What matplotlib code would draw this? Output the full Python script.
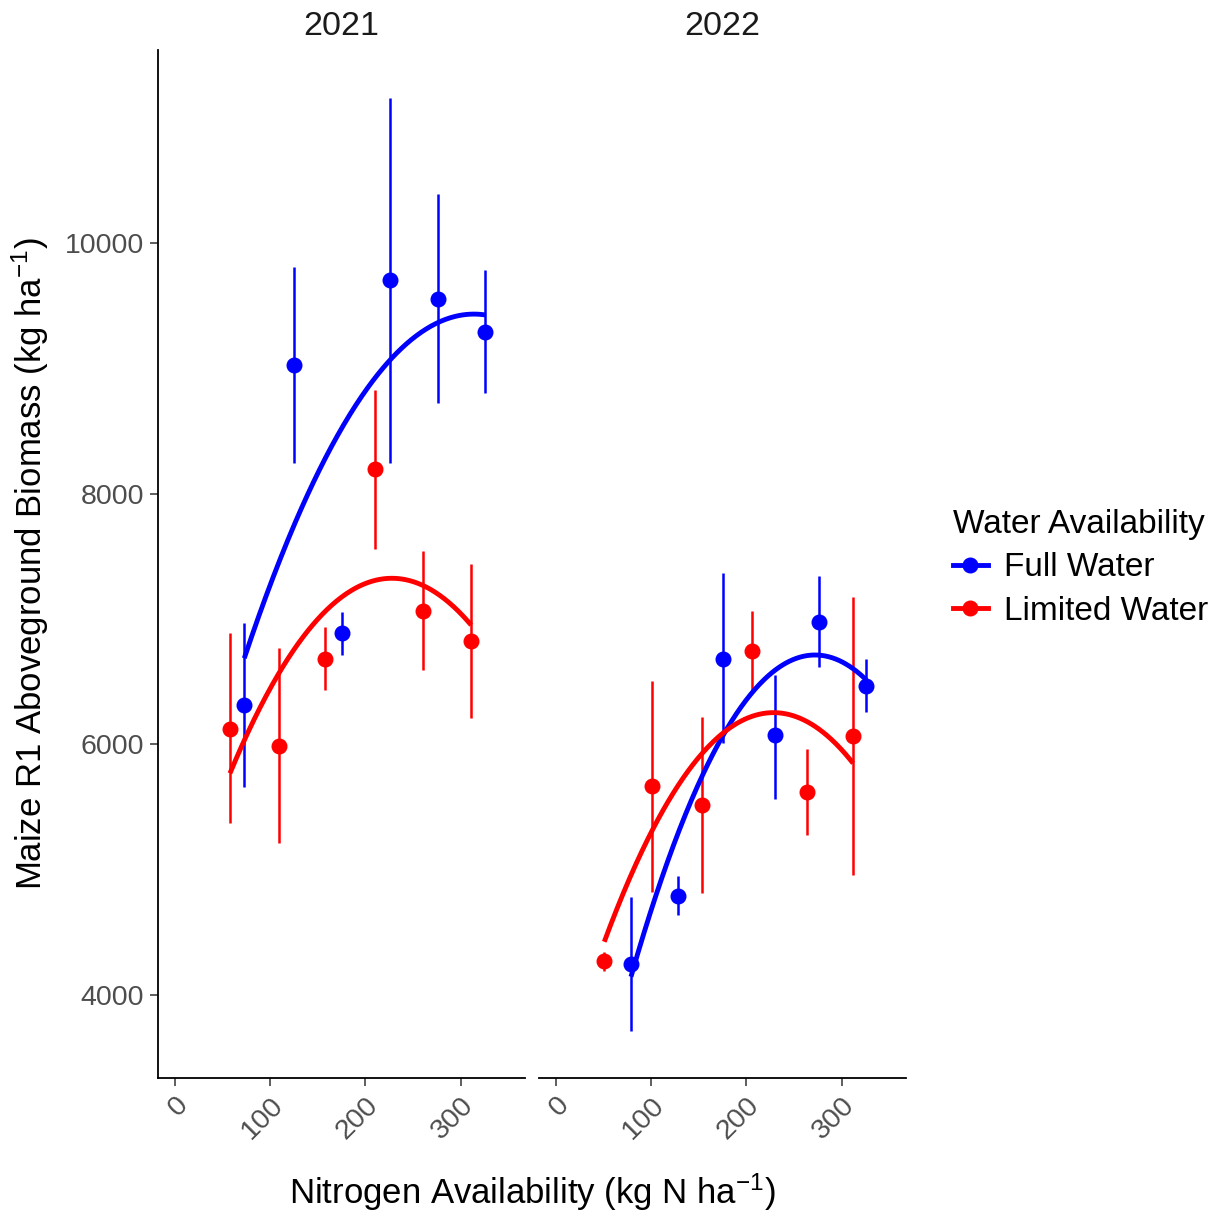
import numpy as np
import matplotlib
matplotlib.use("Agg")
import matplotlib.pyplot as plt
from matplotlib.lines import Line2D

plt.rcParams['font.family'] = ['Liberation Sans', 'DejaVu Sans']
plt.rcParams['mathtext.fontset'] = 'custom'
plt.rcParams['mathtext.rm'] = 'Liberation Sans'
plt.rcParams['mathtext.it'] = 'Liberation Sans:italic'

years = ["2021", "2022"]
groups = ["Full Water", "Limited Water"]
colors = {"Full Water": "#0000FF", "Limited Water": "#FF0000"}

# Treatment means and interval bounds (kg/ha) against N availability (kg N/ha)
n_full_2021 = [73, 125, 175, 226, 276, 326]
mean_full_2021 = [6314, 9027, 6886, 9705, 9556, 9293]
lo_full_2021 = [5662, 8245, 6713, 8247, 8721, 8800]
hi_full_2021 = [6971, 9811, 7058, 11155, 10389, 9785]

n_lim_2021 = [58, 109, 158, 210, 260, 311]
mean_lim_2021 = [6125, 5989, 6681, 8194, 7066, 6822]
lo_lim_2021 = [5370, 5213, 6434, 7556, 6593, 6208]
hi_lim_2021 = [6886, 6766, 6934, 8827, 7545, 7439]

n_full_2022 = [79, 128, 176, 230, 276, 326]
mean_full_2022 = [4247, 4792, 6681, 6075, 6979, 6468]
lo_full_2022 = [3715, 4636, 6008, 5564, 6615, 6260]
hi_full_2022 = [4780, 4950, 7370, 6553, 7343, 6681]

n_lim_2022 = [51, 101, 153, 206, 264, 312]
mean_lim_2022 = [4271, 5668, 5516, 6741, 5622, 6067]
lo_lim_2022 = [4191, 4824, 4811, 6420, 5277, 4957]
hi_lim_2022 = [4345, 6505, 6221, 7066, 5963, 7178]

# Quadratic trend lines: start, vertex/middle and end points of each fitted curve
curve_full_2021_n = [73, 226, 326]
curve_full_2021_y = [6687, 9067, 9426]
curve_lim_2021_n = [58, 227, 311]
curve_lim_2021_y = [5769, 7325, 6952]
curve_full_2022_n = [79, 272, 326]
curve_full_2022_y = [4146, 6713, 6513]
curve_lim_2022_n = [51, 227, 312]
curve_lim_2022_y = [4425, 6253, 5849]

data = {
    ("2021", "Full Water"): (n_full_2021, mean_full_2021, lo_full_2021, hi_full_2021,
                             curve_full_2021_n, curve_full_2021_y),
    ("2021", "Limited Water"): (n_lim_2021, mean_lim_2021, lo_lim_2021, hi_lim_2021,
                                curve_lim_2021_n, curve_lim_2021_y),
    ("2022", "Full Water"): (n_full_2022, mean_full_2022, lo_full_2022, hi_full_2022,
                             curve_full_2022_n, curve_full_2022_y),
    ("2022", "Limited Water"): (n_lim_2022, mean_lim_2022, lo_lim_2022, hi_lim_2022,
                                curve_lim_2022_n, curve_lim_2022_y),
}

W, H = 1229, 1216
fig = plt.figure(figsize=(W / 100, H / 100), dpi=100)

def frac(left, right, top, bottom):
    return [left / W, 1 - bottom / H, (right - left) / W, (bottom - top) / H]

ax1 = fig.add_axes(frac(158, 525, 50, 1078))
ax2 = fig.add_axes(frac(539, 906, 50, 1078), sharey=ax1)
axes = [ax1, ax2]

tick_color = "#4D4D4D"
for ax, yr in zip(axes, years):
    for g in groups:
        n, m, lo, hi, cn, cy = data[(yr, g)]
        ax.vlines(n, lo, hi, color=colors[g], lw=1.8, zorder=2)
        ax.plot(n, m, 'o', color=colors[g], ms=10.5, zorder=3)
    for g in groups:
        n, m, lo, hi, cn, cy = data[(yr, g)]
        coef = np.polyfit(cn, cy, 2)
        xs = np.linspace(cn[0], cn[-1], 200)
        ax.plot(xs, np.polyval(coef, xs), color=colors[g], lw=3.5, zorder=4,
                solid_capstyle='butt')

    ax.set_xlim(-17.5, 367.5)
    ax.set_xticks([0, 100, 200, 300])
    ax.set_xticklabels(["0", "100", "200", "300"], rotation=45, ha='right',
                       va='top', rotation_mode='anchor', fontsize=20.5,
                       color=tick_color)
    ax.tick_params(axis='x', length=6, width=1.1, color="#333333", pad=4)
    for s in ['top', 'right']:
        ax.spines[s].set_visible(False)
    ax.spines['bottom'].set_linewidth(1.3)
    ax.spines['left'].set_linewidth(1.3)
    ax.set_title(yr, fontsize=24.5, pad=11, color="#1A1A1A")

ax1.set_ylim(3338, 11540)
ax1.set_yticks([4000, 6000, 8000, 10000])
ax1.set_yticklabels(["4000", "6000", "8000", "10000"], fontsize=20.5, color=tick_color)
ax1.tick_params(axis='y', length=6, width=1.1, color="#333333", pad=4)
ax1.set_ylabel("Maize R1 Aboveground Biomass (kg ha$^{-1}$)", fontsize=25, labelpad=10)

ax2.spines['left'].set_visible(False)
ax2.tick_params(axis='y', left=False, labelleft=False)

fig.text((158 + 906) / 2 / W, 1 - 1192 / H, "Nitrogen Availability (kg N ha$^{-1}$)",
         ha='center', va='center', fontsize=25)

handles = [Line2D([0], [0], color=colors[g], lw=3.5, marker='o', ms=10.5) for g in groups]
leg = fig.legend(handles, groups, title="Water Availability", loc='upper left',
                 bbox_to_anchor=(926 / W, 1 - 482 / H), frameon=False,
                 fontsize=24, title_fontsize=24, handlelength=1.05,
                 handletextpad=0.5, labelspacing=0.38, borderaxespad=0,
                 borderpad=0.8)
leg._legend_box.align = "left"

fig.savefig("out.png", dpi=100, facecolor="white")
